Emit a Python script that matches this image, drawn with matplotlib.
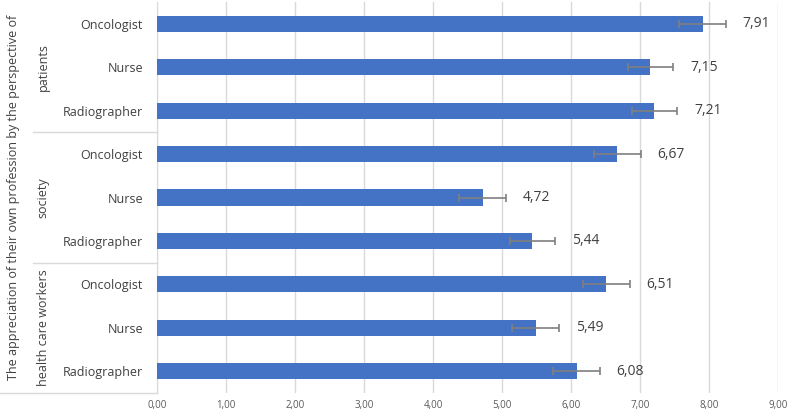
import numpy as np
import matplotlib.pyplot as plt
import matplotlib.transforms as mtransforms

plt.rcParams['font.family'] = ['Open Sans', 'DejaVu Sans']

# data, top to bottom as in the chart
groups = ['patients', 'society', 'health care workers']
roles = ['Oncologist', 'Nurse', 'Radiographer']
values = [7.91, 7.15, 7.21, 6.67, 4.72, 5.44, 6.51, 5.49, 6.08]
errors = [0.34, 0.33, 0.33, 0.34, 0.34, 0.33, 0.34, 0.34, 0.34]
xticks = [0, 1, 2, 3, 4, 5, 6, 7, 8, 9]
outer_title = 'The appreciation of their own profession by the perspective of'

n = len(values)
ypos = np.arange(n)[::-1]          # first item on top
labels = roles * len(groups)

fig = plt.figure(figsize=(7.89, 4.13), dpi=100)
ax = fig.add_axes([157/789, 1 - 393/413, (778 - 157)/789, (393 - 2)/413])

ax.barh(ypos, values, height=0.37, color='#4472C4', zorder=3)
ax.errorbar(values, ypos, xerr=errors, fmt='none', ecolor='#7f7f7f',
            elinewidth=1.2, capsize=3, capthick=1.2, zorder=4)

for v, e, y in zip(values, errors, ypos):
    ax.text(v + 0.58, y, f'{v:.2f}'.replace('.', ','), va='center', ha='left',
            fontsize=10, color='#404040')

ax.set_xlim(0, 9)
ax.set_ylim(-0.5, n - 0.5)
ax.set_xticks(xticks)
ax.set_xticklabels([f'{t:.2f}'.replace('.', ',') for t in xticks], fontsize=7, color='#595959')
ax.set_yticks(ypos)
ax.set_yticklabels(labels, fontsize=9, color='#404040')
ax.tick_params(axis='both', length=0)
ax.tick_params(axis='y', pad=10)
ax.tick_params(axis='x', pad=5)
ax.grid(axis='x', color='#d9d9d9', linewidth=1, zorder=0)
for s in ['top', 'right', 'bottom']:
    ax.spines[s].set_visible(False)
ax.spines['left'].set_color('#d9d9d9')

# group separators and labels on the left
trans = mtransforms.blended_transform_factory(ax.transAxes, ax.transData)
x_sep = (33 - 157) / (778 - 157)
x_edge = -157 / (778 - 157)
for k in range(1, len(groups)):
    yb = n - 3 * k - 0.5
    ax.plot([x_sep, 0], [yb, yb], transform=trans, color='#d9d9d9', lw=1, clip_on=False)
ax.plot([x_edge, 0], [-0.5, -0.5], transform=trans, color='#d9d9d9', lw=1, clip_on=False)

x_grp = (43 - 157) / (778 - 157)
for k, g in enumerate(groups):
    yc = n - 3 * k - 2
    ax.text(x_grp, yc, g, transform=trans, rotation=90, ha='center', va='center',
            fontsize=9, color='#404040')

x_out = (13 - 157) / (778 - 157)
ax.text(x_out, 0.5, outer_title, transform=ax.transAxes, rotation=90,
        ha='center', va='center', fontsize=9, color='#404040')

fig.savefig('out.png', dpi=100)
